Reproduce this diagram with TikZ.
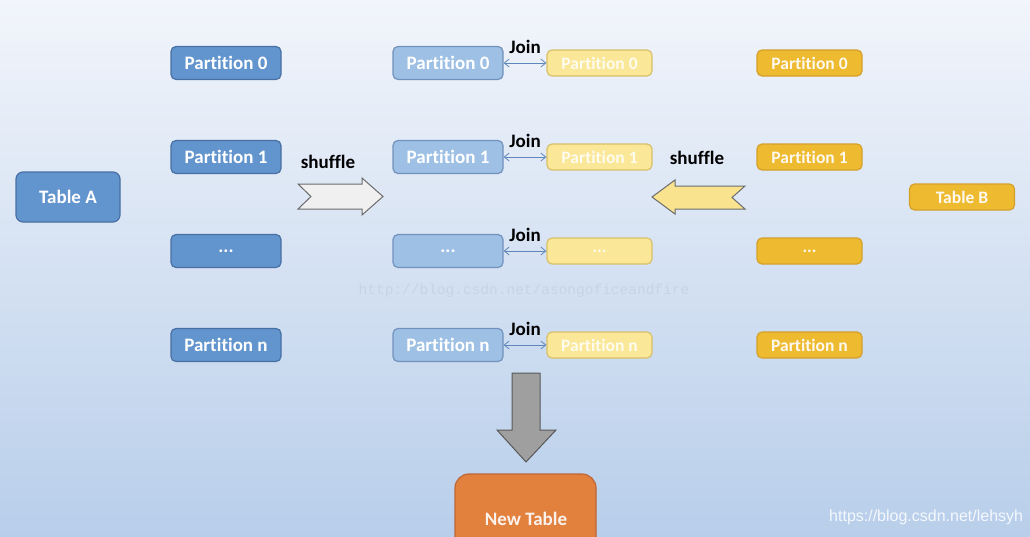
\documentclass[tikz,border=0pt]{standalone}
\usepackage{fontspec}
\setmainfont{Carlito}[Ligatures={NoCommon}]
\newfontfamily\wmmono{Liberation Mono}
\newfontfamily\wmsans{Liberation Sans}
\usetikzlibrary{arrows.meta}
\newcommand\tdots{...}
\definecolor{bgtop}{RGB}{242,245,251}
\definecolor{bgbot}{RGB}{184,206,234}
\definecolor{wmc}{RGB}{200,212,228}
\definecolor{blueA}{RGB}{98,148,205}
\definecolor{blueAb}{RGB}{72,112,165}
\definecolor{blueL}{RGB}{158,192,228}
\definecolor{blueLb}{RGB}{112,146,188}
\definecolor{yelL}{RGB}{250,232,152}
\definecolor{yelLb}{RGB}{216,192,104}
\definecolor{yelD}{RGB}{238,186,48}
\definecolor{yelDb}{RGB}{212,160,42}
\definecolor{orangeN}{RGB}{226,128,62}
\definecolor{orangeNb}{RGB}{190,102,52}
\definecolor{joinc}{RGB}{95,135,185}
\tikzset{
  box/.style={rounded corners=5pt, line width=1.2pt, text=white, font=\bfseries\fontsize{19}{19}\selectfont, inner sep=0pt},
  bluebox/.style={box, fill=blueA, draw=blueAb, minimum width=110pt, minimum height=33pt},
  lightbox/.style={box, fill=blueL, draw=blueLb, minimum width=110pt, minimum height=33pt},
  lyelbox/.style={box, fill=yelL, draw=yelLb, text=white!85!yelL, minimum width=105pt, minimum height=26pt, font=\bfseries\fontsize{17.5}{17.5}\selectfont},
  yelbox/.style={box, fill=yelD, draw=yelDb, text=white!92!yelD, minimum width=105pt, minimum height=26pt, font=\bfseries\fontsize{17.5}{17.5}\selectfont},
  lbl/.style={font=\bfseries\fontsize{19}{19}\selectfont, text=black, inner sep=0pt},
  joinarrow/.style={{Straight Barb[length=5pt,width=8pt]}-{Straight Barb[length=5pt,width=8pt]}, draw=joinc, line width=0.8pt},
}
\begin{document}
\begin{tikzpicture}[x=1pt,y=-1pt]
\useasboundingbox (0,0) rectangle (1030,536);
\clip (0,0) rectangle (1030,536);
\shade[top color=bgtop, bottom color=bgbot] (0,0) rectangle (1030,536);

% watermark
\node[font=\wmmono\fontsize{14.5}{14.5}\selectfont, text=wmc, inner sep=0pt] (wm1) at (524,291) {http://blog.csdn.net/asongoficeandfire};

% Table A and B
\node[bluebox, minimum width=104pt, minimum height=50pt, rounded corners=7pt] (ta) at (68,197) {Table A};
\node[yelbox] (tb) at (962,197) {Table B};

% rows
\foreach \i/\y/\t in {0/63/Partition 0, 1/157/Partition 1, 2/251/\tdots, 3/345/Partition n}{
  \node[bluebox] (a\i) at (226,\y) {\t};
  \node[lightbox] (m\i) at (448,\y) {\t};
  \node[lyelbox] (l\i) at (599.5,\y) {\t};
  \node[yelbox] (b\i) at (809.5,\y) {\t};
}
\foreach \i in {0,1,2,3}{
  \draw[joinarrow] (m\i.east) -- (l\i.west) node[midway, lbl, above=9pt] {Join};
}

% shuffle arrows
\draw[draw=gray!85!black, fill=gray!12, line width=1pt, line join=miter]
  (298,184) -- (362,184) -- (362,178) -- (383,196.5) -- (362,215) -- (362,209) -- (298,209) -- (311,196.5) -- cycle;
\node[lbl] (s1) at (328,162) {shuffle};
\draw[draw=gray!85!black, fill=yelL!90!yelD, line width=1pt, line join=miter]
  (745,186) -- (675,186) -- (675,180) -- (652,197) -- (675,214) -- (675,209) -- (745,209) -- (732,197.5) -- cycle;
\node[lbl] (s2) at (697,158) {shuffle};

% down arrow
\draw[draw=gray!70!black, fill=gray!75, line width=1pt, line join=miter]
  (512,373) -- (540,373) -- (540,430) -- (556,430) -- (526,462) -- (497,430) -- (512,430) -- cycle;

% new table
\node[box, fill=orangeN, draw=orangeNb, rounded corners=14pt, minimum width=141pt, minimum height=100pt] (nt) at (525.5,524) {};
\node[lbl, text=white!90!orangeN] (ntl) at (526,519) {New Table};

% watermark bottom right
\node[font=\wmsans\fontsize{16}{16}\selectfont, text=white!85!bgbot, inner sep=0pt, anchor=west] (wm2) at (829,517) {https://blog.csdn.net/lehsyh};
\end{tikzpicture}
\end{document}
